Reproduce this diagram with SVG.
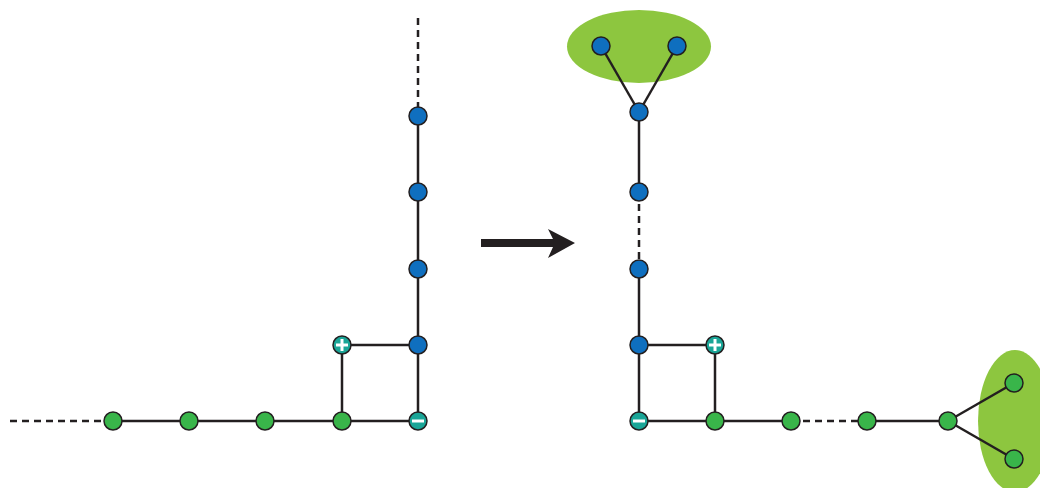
<svg xmlns="http://www.w3.org/2000/svg" width="1040" height="488" viewBox="0 0 1040 488">
<style>
.e{stroke:#231f20;stroke-width:2.5;fill:none}
.d{stroke:#231f20;stroke-width:2.5;fill:none;stroke-dasharray:7 5}
.b{fill:#0f6fbf;stroke:#231f20;stroke-width:1.5}
.g{fill:#39b54a;stroke:#231f20;stroke-width:1.5}
.t{fill:#1aa597;stroke:#231f20;stroke-width:1.5}
.s{stroke:#fff;stroke-width:3;fill:none}
.h{fill:#8dc63f}
</style>
<rect width="1040" height="488" fill="#fff"/>
<ellipse class="h" cx="639" cy="46.5" rx="72" ry="36.5"/>
<ellipse class="h" cx="1015" cy="421" rx="37" ry="71"/>
<g id="connectors">
<line class="d" x1="10" y1="421" x2="113" y2="421"/>
<line class="e" x1="113" y1="421" x2="418" y2="421"/>
<line class="d" x1="418" y1="18" x2="418" y2="116"/>
<line class="e" x1="418" y1="116" x2="418" y2="421"/>
<line class="e" x1="342" y1="345" x2="418" y2="345"/>
<line class="e" x1="342" y1="345" x2="342" y2="421"/>
<line class="e" x1="601" y1="46" x2="639" y2="112"/>
<line class="e" x1="677" y1="46" x2="639" y2="112"/>
<line class="e" x1="639" y1="112" x2="639" y2="192"/>
<line class="d" x1="639" y1="192" x2="639" y2="269"/>
<line class="e" x1="639" y1="269" x2="639" y2="421"/>
<line class="e" x1="639" y1="345" x2="715" y2="345"/>
<line class="e" x1="715" y1="345" x2="715" y2="421"/>
<line class="e" x1="639" y1="421" x2="791" y2="421"/>
<line class="d" x1="791" y1="421" x2="867" y2="421"/>
<line class="e" x1="867" y1="421" x2="948" y2="421"/>
<line class="e" x1="948" y1="421" x2="1014" y2="383"/>
<line class="e" x1="948" y1="421" x2="1014" y2="459"/>
<path d="M481 239H553L548 229L575 243L548 258L553 247H481Z" fill="#231f20"/>
</g>
<g id="n1"><circle class="g" cx="113" cy="421" r="9"/></g>
<g id="n2"><circle class="g" cx="189" cy="421" r="9"/></g>
<g id="n3"><circle class="g" cx="265" cy="421" r="9"/></g>
<g id="n4"><circle class="g" cx="342" cy="421" r="9"/></g>
<g id="n5"><circle class="t" cx="418" cy="421" r="9"/><path class="s" d="M412 421H424"/></g>
<g id="n6"><circle class="t" cx="342" cy="345" r="9"/><path class="s" d="M336 345H348M342 339V351"/></g>
<g id="n7"><circle class="b" cx="418" cy="345" r="9"/></g>
<g id="n8"><circle class="b" cx="418" cy="269" r="9"/></g>
<g id="n9"><circle class="b" cx="418" cy="192" r="9"/></g>
<g id="n10"><circle class="b" cx="418" cy="116" r="9"/></g>
<g id="m1"><circle class="b" cx="601" cy="46" r="9"/></g>
<g id="m2"><circle class="b" cx="677" cy="46" r="9"/></g>
<g id="m3"><circle class="b" cx="639" cy="112" r="9"/></g>
<g id="m4"><circle class="b" cx="639" cy="192" r="9"/></g>
<g id="m5"><circle class="b" cx="639" cy="269" r="9"/></g>
<g id="m6"><circle class="b" cx="639" cy="345" r="9"/></g>
<g id="m7"><circle class="t" cx="715" cy="345" r="9"/><path class="s" d="M709 345H721M715 339V351"/></g>
<g id="m8"><circle class="t" cx="639" cy="421" r="9"/><path class="s" d="M633 421H645"/></g>
<g id="m9"><circle class="g" cx="715" cy="421" r="9"/></g>
<g id="m10"><circle class="g" cx="791" cy="421" r="9"/></g>
<g id="m11"><circle class="g" cx="867" cy="421" r="9"/></g>
<g id="m12"><circle class="g" cx="948" cy="421" r="9"/></g>
<g id="m13"><circle class="g" cx="1014" cy="383" r="9"/></g>
<g id="m14"><circle class="g" cx="1014" cy="459" r="9"/></g>
</svg>
